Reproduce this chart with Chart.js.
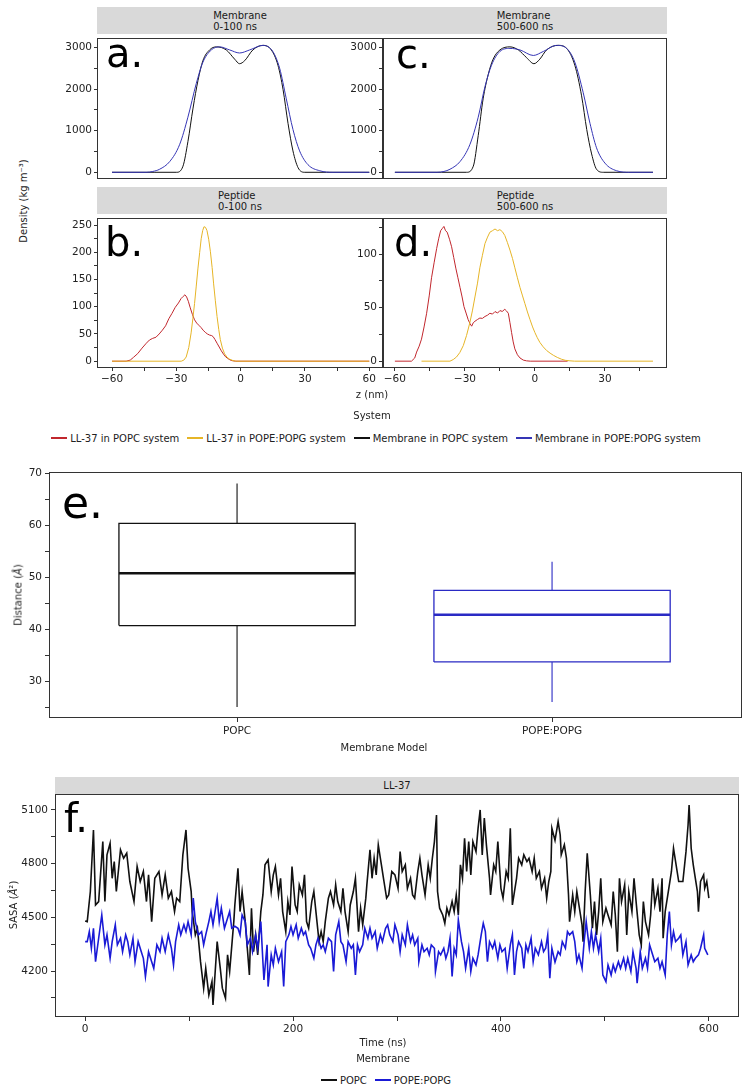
<!DOCTYPE html>
<html>
<head>
<meta charset="utf-8">
<script src="https://cdn.jsdelivr.net/npm/chart.js@4.4.0/dist/chart.umd.min.js"></script>
<style>
body {margin:0; background:#fff; width:749px; height:1092px; position:relative; overflow:hidden; font-family:'DejaVu Sans', sans-serif; color:#222;}
canvas {position:absolute;}
.strip {position:absolute; background:#d9d9d9; font-size:10px; line-height:11px; color:#1a1a1a; display:flex; flex-direction:column; justify-content:center; align-items:center;}
.tag {position:absolute; font-size:40px; line-height:40px; color:#000;}
.txt {position:absolute; font-size:10px; white-space:nowrap; transform:translate(-50%,-50%);}
.rot {transform:translate(-50%,-50%) rotate(-90deg);}
.legend {position:absolute; font-size:10px; white-space:nowrap; display:flex; justify-content:center; align-items:center;}
.sw {display:inline-block; width:16px; height:1.5px; margin-right:3px; margin-left:8px;}
</style>
</head>
<body>

<div class="strip" style="left:97px;top:7px;width:286px;height:27px">Membrane<br>0-100 ns</div>
<div class="strip" style="left:383px;top:7px;width:284px;height:27px">Membrane<br>500-600 ns</div>
<div class="strip" style="left:97px;top:187px;width:286px;height:27px">Peptide<br>0-100 ns</div>
<div class="strip" style="left:383px;top:187px;width:284px;height:27px">Peptide<br>500-600 ns</div>

<canvas id="MemEarly" width="340" height="157" style="left:45px;top:30px"></canvas>
<canvas id="MemLate" width="340" height="157" style="left:331px;top:30px"></canvas>
<canvas id="PepEarly" width="340" height="180" style="left:45px;top:210px"></canvas>
<canvas id="PepLate" width="340" height="180" style="left:331px;top:210px"></canvas>

<div class="tag" style="left:106px;top:33px">a.</div>
<div class="tag" style="left:396px;top:34px">c.</div>
<div class="tag" style="left:105px;top:222px">b.</div>
<div class="tag" style="left:394px;top:222px">d.</div>

<div class="txt rot" style="left:23px;top:201px">Density (kg m⁻³)</div>
<div class="txt" style="left:372px;top:394px">z (nm)</div>
<div class="txt" style="left:372px;top:415px">System</div>
<div class="legend" style="left:0;top:431px;width:744px;height:14px">
  <span class="sw" style="background:#c1272d"></span>LL-37 in POPC system
  <span class="sw" style="background:#e6b527"></span>LL-37 in POPE:POPG system
  <span class="sw" style="background:#111"></span>Membrane in POPC system
  <span class="sw" style="background:#3535b5"></span>Membrane in POPE:POPG system
</div>

<canvas id="BoxChart" width="749" height="320" style="left:0;top:440px"></canvas>
<div class="tag" style="left:62px;top:481px;font-size:44px;line-height:44px">e.</div>
<div class="txt rot" style="left:18px;top:595px">Distance (<i>Å</i>)</div>
<div class="txt" style="left:384px;top:747px">Membrane Model</div>

<div class="strip" style="left:55px;top:777px;width:684px;height:17px">LL-37</div>
<canvas id="SasaChart" width="749" height="265" style="left:0;top:780px"></canvas>
<div class="tag" style="left:64px;top:798px">f.</div>
<div class="txt rot" style="left:13px;top:905px">SASA (<i>Å</i>²)</div>
<div class="txt" style="left:383px;top:1042px">Time (ns)</div>
<div class="txt" style="left:383px;top:1058px">Membrane</div>
<div class="legend" style="left:0;top:1073px;width:764px;height:14px">
  <span class="sw" style="background:#111"></span>POPC
  <span class="sw" style="background:#1a1ad6"></span>POPE:POPG
</div>

<script>
Chart.defaults.font.family = "'DejaVu Sans', sans-serif"
Chart.defaults.font.size = 10.5
Chart.defaults.color = '#222'

// ---------------- DATA: DENSITY PROFILES [z (nm), density] -------------------
const MemPopcEarly = [[-60,0],[-40,0],[-30,0],[-26.9,147],[-24.6,735],[-22.2,1544],[-19.9,2206],[-17.6,2684],[-14.5,2941],[-11.3,3015],[-6.7,2941],[-2.8,2720],[-0.5,2610],[1.9,2684],[5.7,2941],[10.4,3051],[14.3,2941],[17.4,2574],[19.8,1985],[22.1,1176],[24.4,514],[26.8,110],[29.9,0],[40,0],[60,0]]
const MemPopgEarly = [[-60,0],[-44,0],[-41,20],[-37.8,73],[-33.1,257],[-28.5,662],[-24.6,1324],[-20.7,2133],[-17.6,2647],[-13.7,2941],[-9.8,3015],[-5.1,2941],[-0.5,2868],[4.2,2941],[10.4,3051],[15,2905],[18.2,2500],[21.3,1765],[24.4,1030],[27.5,514],[31.4,183],[36.9,37],[43.1,0],[60,0]]
const MemPopcLate = [[-60,0],[-40,0],[-29.3,0],[-26.4,147],[-24.3,882],[-22.2,1765],[-20,2353],[-17.9,2720],[-15,2941],[-10.7,3015],[-7.1,2941],[-3.6,2757],[-0.4,2610],[2.1,2720],[5,2941],[10,3051],[13.6,2978],[17.1,2574],[20,1838],[22.2,1030],[24.3,441],[26.4,73],[29.3,0],[40,0],[50.6,0]]
const MemPopgLate = [[-60,0],[-42,0],[-39,20],[-36.4,73],[-32.1,257],[-27.9,662],[-24.3,1324],[-21.4,2059],[-18.6,2574],[-15,2905],[-10.7,2978],[-6.4,2941],[-0.7,2808],[3.6,2905],[9.3,3051],[13.6,2978],[17.1,2647],[20.7,1912],[23.6,1176],[26.4,588],[30,221],[35,37],[40.7,0],[50.6,0]]

const PepPopcEarly = [[-60,0],[-53.4,0],[-51.5,2],[-50,7],[-48,14],[-46,24],[-44,33],[-42.5,39],[-41,42],[-39.5,44],[-38,50],[-36.5,57],[-35,65],[-33.5,78],[-32,88],[-30.5,99],[-29,107],[-27.8,115],[-26.8,119],[-26,122],[-25.2,118],[-24.4,110],[-23.5,98],[-22.5,86],[-21.5,76],[-20.5,70],[-19.5,66],[-18.5,62],[-17.5,57],[-16.5,53],[-15.5,50],[-14.5,48],[-13.5,47],[-12.8,45],[-12,40],[-11,33],[-10,26],[-9,19],[-8,13],[-7,8],[-6,5],[-5,2.5],[-4,1],[-2.5,0],[60,0]]
const PepPopgEarly = [[-60,0],[-27.7,0],[-26.5,2],[-25.4,7.7],[-24.2,25],[-23.1,52],[-22.3,78],[-21.5,106],[-20.7,138],[-19.9,171],[-19.1,200],[-18.4,225],[-17.7,240],[-17.1,247],[-16.4,246],[-15.7,240],[-14.9,224],[-14.1,201],[-13.3,172],[-12.6,142],[-11.8,111],[-11,82],[-10.2,58],[-9.5,40],[-8.5,24],[-7.5,13.7],[-6.3,7],[-5.1,3.6],[-3.5,1],[-2,0],[60,0]]
const PepPopcLate = [[-60,0],[-52.9,0],[-51.5,3],[-50.7,8.5],[-49.6,14],[-48.6,20.6],[-47.5,32],[-46.4,44.8],[-45.3,61],[-44.3,78],[-43.2,92],[-42.1,105.5],[-41.2,115],[-40.4,122],[-39.7,124],[-39,126],[-38.3,122],[-37.6,120.6],[-36.6,114],[-35.7,107],[-34.8,97],[-33.9,87],[-33,78],[-32.1,69],[-31.2,60],[-30.4,51],[-29.5,45],[-28.6,38.8],[-27.8,35],[-27.1,32.7],[-26.4,36],[-25.7,37.3],[-24.6,39],[-23.6,40.3],[-22.5,40],[-21.4,41.8],[-20.3,43],[-19.3,44.8],[-18.2,44],[-17.1,46.4],[-16,45],[-15,47.3],[-14,46.5],[-12.9,48.5],[-12.2,47],[-11.4,44.8],[-10.7,36],[-10,26.7],[-9.3,18],[-8.6,11.5],[-7.5,6],[-6.4,3],[-5,1],[-3.6,0.3],[-2,0],[14,0]]
const PepPopgLate = [[-48.6,0],[-36.4,0],[-35,1.5],[-33.6,3.9],[-32.2,8],[-30.7,14.5],[-29.3,24],[-27.9,35.8],[-26.8,47],[-25.7,60],[-24.6,73],[-23.6,87.3],[-22.5,99],[-21.4,110],[-20.3,116],[-19.3,120.6],[-18.2,122],[-17.1,123.6],[-16,122],[-15,123],[-13.9,121],[-12.9,117.5],[-11.8,111],[-10.7,103.9],[-9.6,96],[-8.6,87.3],[-7.5,78],[-6.4,69],[-5.3,61],[-4.3,53.9],[-3.2,46],[-2.1,38.8],[-1,32],[0,26.7],[1,22],[2.1,17.6],[3.5,13.5],[5,10],[6.5,7.5],[7.9,5.5],[9.6,3.5],[11.4,1.8],[13,0.8],[15,0.3],[17,0],[50.6,0]]

// tick values (minor ticks carry no label)
const ZTicks = [-60,-45,-30,-15,0,15,30,45,60]
const ZLabels = [-60,-30,0,30,60]
const MemTicks = [0,500,1000,1500,2000,2500,3000]
const MemLabels = [0,1000,2000,3000]
const PepEarlyTicks = [0,25,50,75,100,125,150,175,200,225,250]
const PepEarlyLabels = [0,50,100,150,200,250]
const PepLateTicks = [0,25,50,75,100,125]
const PepLateLabels = [0,50,100]

// ---------------- DATA: DISTANCE BOX PLOT -------------------
const Membranes = ['POPC', 'POPE:POPG']
const DistLow = [25.0, 26.0]
const DistQ1 = [40.7, 33.7]
const DistMedian = [50.8, 42.8]
const DistQ3 = [60.4, 47.5]
const DistHigh = [68.1, 53.0]
const DistTicks = [25,30,35,40,45,50,55,60,65,70]
const DistLabels = [30,40,50,60,70]

// ---------------- DATA: SASA [time (ns), SASA] -------------------
const SasaPopc = [[0,4480],[2,4476],[5,4644],[8,4988],[10,4569],[13,4588],[17,4923],[19,4588],[21,4849],[24,4914],[26,4718],[28,4811],[30,4644],[34,4877],[37,4830],[40,4858],[43,4700],[47,4588],[50,4784],[53,4700],[56,4756],[59,4588],[61,4737],[64,4476],[67,4718],[71,4756],[74,4625],[77,4737],[80,4607],[83,4644],[86,4532],[88,4607],[91,4588],[94,4849],[97,4988],[99,4774],[102,4644],[103,4532],[106,4402],[108,4439],[111,4252],[114,4104],[116,4215],[119,4066],[122,4141],[123,4010],[127,4364],[130,4215],[132,4104],[135,4048],[137,4290],[139,4197],[143,4476],
  [144,4569],[147,4774],[149,4532],[151,4644],[154,4476],[156,4327],[158,4178],[160,4551],[162,4308],[164,4402],[166,4290],[169,4532],[171,4625],[173,4793],[176,4821],[179,4644],[181,4737],[183,4784],[186,4625],[188,4718],[190,4532],[193,4420],[195,4588],[197,4513],[199,4784],[202,4569],[204,4532],[206,4681],[209,4625],[211,4737],[213,4476],[215,4439],[218,4588],[220,4644],[222,4532],[225,4364],[227,4420],[229,4364],[231,4476],[234,4607],[236,4644],[239,4569],[241,4681],[243,4588],[246,4532],[248,4662],[250,4532],[253,4420],[255,4569],[258,4644],[260,4718],[263,4420],[265,4551],[267,4458],[270,4607],[271,4681],[274,4877],[276,4718],[278,4830],[280,4737],[282,4905],[285,4793],[287,4718],[290,4607],[292,4625],[295,4756],[298,4737],
  [301,4662],[303,4867],[305,4756],[308,4793],[310,4662],[313,4718],[315,4625],[317,4607],[320,4756],[322,4830],[324,4737],[327,4625],[330,4793],[332,4718],[334,4830],[336,4923],[338,5072],[339,4644],[341,4551],[344,4513],[346,4467],[348,4551],[350,4513],[353,4588],[355,4532],[357,4625],[359,4513],[361,4793],[363,4718],[365,4942],[367,4756],[369,4923],[371,4737],[373,4923],[376,4867],[378,4998],[380,5100],[382,4849],[384,5054],[386,4905],[389,4718],[390,4625],[393,4793],[395,4756],[397,4923],[400,4662],[402,4607],[405,4756],[407,4718],[409,4998],[411,4569],[413,4644],[415,4718],[417,4830],[420,4793],[422,4849],[425,4811],[427,4830],[430,4756],[432,4830],[434,4718],[437,4756],[439,4662],[442,4718],[444,4607],[446,4700],[448,4756],[449,4998],[452,4930],[455,5035],[457,4960],
  [458,4849],[461,4905],[463,4830],[465,4625],[466,4476],[469,4625],[471,4532],[473,4644],[475,4569],[478,4458],[479,4364],[481,4644],[483,4858],[486,4625],[488,4439],[490,4588],[492,4402],[494,4532],[496,4718],[498,4476],[501,4551],[503,4513],[506,4458],[508,4644],[510,4513],[512,4308],[514,4718],[516,4588],[519,4681],[521,4402],[523,4644],[526,4532],[528,4718],[530,4588],[533,4402],[535,4346],[537,4588],[539,4476],[542,4402],[544,4513],[546,4718],[548,4569],[551,4662],[553,4532],[555,4718],[556,4383],[558,4532],[561,4644],[564,4756],[566,4886],[568,4811],[571,4700],[573,4700],[575,4700],[578,4867],[580,5016],[581,5128],[583,4886],[585,4793],[587,4718],[589,4644],[590,4532],[592,4700],[595,4737],[596,4662],[598,4700],[600,4607]]

const SasaPopg = [[0,4364],[2,4364],[4,4420],[6,4327],[8,4439],[10,4252],[13,4383],[16,4513],[19,4346],[21,4402],[24,4271],[26,4364],[29,4458],[31,4346],[34,4383],[36,4308],[39,4402],[41,4364],[43,4290],[46,4383],[48,4252],[51,4364],[54,4308],[56,4271],[58,4169],[61,4308],[64,4252],[66,4215],[69,4346],[72,4308],[74,4383],[77,4308],[80,4402],[83,4327],[85,4234],[87,4364],[90,4458],[92,4402],[95,4458],[97,4420],[99,4476],[102,4402],[104,4607],[106,4476],[109,4402],[112,4420],[114,4346],[116,4402],[119,4476],[121,4532],[123,4458],[127,4607],[129,4476],[131,4551],[134,4439],[136,4476],[139,4532],[141,4439],[144,4450],
  [147,4439],[149,4402],[151,4513],[154,4476],[156,4346],[159,4383],[161,4308],[164,4402],[166,4327],[169,4476],[171,4252],[172,4150],[175,4346],[176,4113],[179,4290],[181,4234],[183,4327],[186,4252],[189,4308],[191,4113],[193,4364],[196,4402],[198,4448],[200,4402],[203,4458],[205,4383],[208,4439],[210,4402],[212,4420],[215,4346],[217,4327],[220,4271],[222,4346],[224,4383],[227,4327],[229,4346],[231,4308],[234,4383],[237,4364],[239,4197],[241,4402],[244,4476],[246,4364],[248,4346],[251,4252],[253,4364],[256,4327],[258,4346],[260,4178],[262,4346],[264,4308],[267,4346],[269,4439],[272,4383],[274,4439],[276,4383],[279,4420],[281,4327],[284,4402],[286,4364],[289,4439],[291,4458],[293,4402],[296,4364],[298,4458],
  [301,4402],[303,4308],[305,4402],[308,4346],[310,4458],[313,4364],[315,4402],[317,4346],[320,4383],[321,4252],[324,4346],[326,4308],[329,4327],[331,4290],[333,4346],[336,4327],[337,4197],[340,4308],[342,4290],[345,4327],[347,4271],[349,4308],[351,4383],[353,4169],[355,4327],[357,4290],[359,4485],[362,4364],[364,4308],[366,4215],[369,4327],[371,4197],[373,4271],[376,4234],[378,4290],[381,4402],[383,4467],[385,4420],[387,4252],[389,4364],[392,4327],[394,4364],[397,4271],[399,4346],[401,4308],[404,4327],[406,4215],[409,4346],[411,4402],[413,4178],[415,4308],[417,4364],[420,4327],[422,4215],[424,4346],[426,4308],[429,4383],[431,4252],[433,4327],[436,4290],[439,4364],[441,4308],[443,4327],[445,4402],[447,4160],[449,4327],[452,4250],
  [455,4308],[457,4290],[459,4364],[462,4327],[464,4420],[466,4402],[469,4420],[471,4364],[473,4252],[475,4290],[478,4215],[480,4364],[482,4476],[485,4327],[487,4420],[489,4327],[491,4402],[494,4308],[496,4383],[498,4178],[501,4141],[503,4234],[506,4178],[508,4234],[510,4197],[513,4252],[515,4215],[518,4271],[520,4215],[522,4271],[525,4197],[527,4308],[530,4215],[531,4132],[534,4308],[536,4215],[539,4271],[541,4215],[543,4346],[546,4290],[548,4252],[551,4271],[553,4215],[555,4252],[558,4178],[560,4402],[562,4532],[564,4346],[566,4420],[568,4364],[571,4383],[573,4402],[575,4290],[578,4364],[580,4234],[583,4290],[585,4252],[587,4271],[590,4290],[592,4327],[595,4402],[596,4327],[599,4290]]

const TimeTicks = [0,100,200,300,400,500,600]
const TimeLabels = [0,200,400,600]
const SasaTicks = [4050,4200,4350,4500,4650,4800,4950,5100]
const SasaLabels = [4200,4500,4800,5100]

// ---------------- HELPERS -------------------
const Minus = v => String(v).replace('-', '\u2212')

const FramePlugin = {
    id: 'frame',
    afterDraw(chart) {
        const {ctx, chartArea} = chart
        const l = Math.round(chartArea.left) + 0.5, t = Math.round(chartArea.top) + 0.5
        const r = Math.round(chartArea.right) - 0.5, b = Math.round(chartArea.bottom) - 0.5
        ctx.save()
        ctx.strokeStyle = '#333'
        ctx.lineWidth = 1
        ctx.strokeRect(l, t, r - l, b - t)
        ctx.restore()
    }
}

function Axis(min, max, ticks, labels, size, tickLen, pad, fmt, show) {
    const inside = ticks.filter(v => v >= min && v <= max)
    return {
        type: 'linear',
        display: show !== false,
        min: min,
        max: max,
        afterBuildTicks: s => { s.ticks = inside.map(v => ({value: v})) },
        afterFit: s => { if (s.isHorizontal()) s.height = size; else s.width = size },
        grid: {display: true, drawOnChartArea: false, drawTicks: true, tickLength: tickLen, tickColor: '#333', tickWidth: 1},
        border: {display: false},
        ticks: {
            autoSkip: false,
            maxRotation: 0,
            padding: pad,
            color: '#222',
            callback: v => labels.includes(v) ? fmt(v) : ''
        }
    }
}

function Line(points, color, width, smooth) {
    return {
        data: points.map(p => ({x: p[0], y: p[1]})),
        borderColor: color,
        borderWidth: width,
        pointRadius: 0,
        fill: false,
        cubicInterpolationMode: smooth ? 'monotone' : 'default',
        tension: 0
    }
}

function Panel(id, datasets, x, y, padding) {
    new Chart(document.getElementById(id), {
        type: 'line',
        data: {datasets: datasets},
        options: {
            responsive: false,
            animation: false,
            layout: {padding: padding},
            plugins: {legend: {display: false}, tooltip: {enabled: false}},
            scales: {x: x, y: y}
        },
        plugins: [FramePlugin]
    })
}

// ---------------- DENSITY PANELS -------------------
const Red = '#c1272d', Yellow = '#e6b527', Black = '#111', Navy = '#3535b5', Blue = '#1a1ad6'

Panel('MemEarly',
    [Line(MemPopgEarly, Navy, 1, true), Line(MemPopcEarly, Black, 1, true)],
    Axis(-67, 66.4, ZTicks, ZLabels, 0, 3, 2, Minus, false),
    Axis(-154, 3221, MemTicks, MemLabels, 52, 3, 2, String),
    {left: 0, right: 2, top: 4, bottom: 0})

Panel('MemLate',
    [Line(MemPopgLate, Navy, 1, true), Line(MemPopcLate, Black, 1, true)],
    Axis(-65.1, 56.6, ZTicks, ZLabels, 0, 4, 2, Minus, false),
    Axis(-154, 3221, MemTicks, MemLabels, 52, 4, 2, String),
    {left: 0, right: 4, top: 4, bottom: 0})

Panel('PepEarly',
    [Line(PepPopgEarly, Yellow, 1, false), Line(PepPopcEarly, Red, 1, false)],
    Axis(-67, 66.4, ZTicks, ZLabels, 20, 3, 2, Minus),
    Axis(-12.5, 262.5, PepEarlyTicks, PepEarlyLabels, 52, 3, 2, String),
    {left: 0, right: 2, top: 4, bottom: 2})

Panel('PepLate',
    [Line(PepPopgLate, Yellow, 1, false), Line(PepPopcLate, Red, 1, false)],
    Axis(-65.1, 56.6, ZTicks, ZLabels, 20, 3, 2, Minus),
    Axis(-6.4, 133.6, PepLateTicks, PepLateLabels, 52, 4, 2, String),
    {left: 0, right: 4, top: 4, bottom: 2})

// ---------------- DISTANCE BOX PLOT -------------------
const BoxHalf = 0.375
function BoxSets(i, color) {
    const c = i + 1
    const seg = (pts, w) => ({
        data: pts.map(p => ({x: p[0], y: p[1]})),
        showLine: true, borderColor: color, borderWidth: w, pointRadius: 0, fill: false
    })
    return [
        seg([[c - BoxHalf, DistQ1[i]], [c + BoxHalf, DistQ1[i]], [c + BoxHalf, DistQ3[i]], [c - BoxHalf, DistQ3[i]], [c - BoxHalf, DistQ1[i]]], 1.3),
        seg([[c - BoxHalf, DistMedian[i]], [c + BoxHalf, DistMedian[i]]], 2.5),
        seg([[c, DistQ3[i]], [c, DistHigh[i]]], 1.1),
        seg([[c, DistLow[i]], [c, DistQ1[i]]], 1.1)
    ]
}

new Chart(document.getElementById('BoxChart'), {
    type: 'scatter',
    data: {datasets: [...BoxSets(0, '#111'), ...BoxSets(1, '#2a2ac4')]},
    options: {
        responsive: false,
        animation: false,
        layout: {padding: {left: 9, right: 7, top: 32, bottom: 22}},
        plugins: {legend: {display: false}, tooltip: {enabled: false}},
        scales: {
            x: Axis(0.403, 2.603, [1, 2], [1, 2], 20, 4, 3, v => Membranes[v - 1]),
            y: Axis(22.9, 70.3, DistTicks, DistLabels, 40, 4, 3, String)
        }
    },
    plugins: [FramePlugin]
})

// ---------------- SASA TIME SERIES -------------------
Panel('SasaChart',
    [Line(SasaPopg, Blue, 1.6, false), Line(SasaPopc, Black, 1.6, false)],
    Axis(-29, 629, TimeTicks, TimeLabels, 24, 4, 2, String),
    Axis(3943, 5189, SasaTicks, SasaLabels, 50, 4, 3, String),
    {left: 5, right: 10, top: 14, bottom: 4})
</script>
</body>
</html>
